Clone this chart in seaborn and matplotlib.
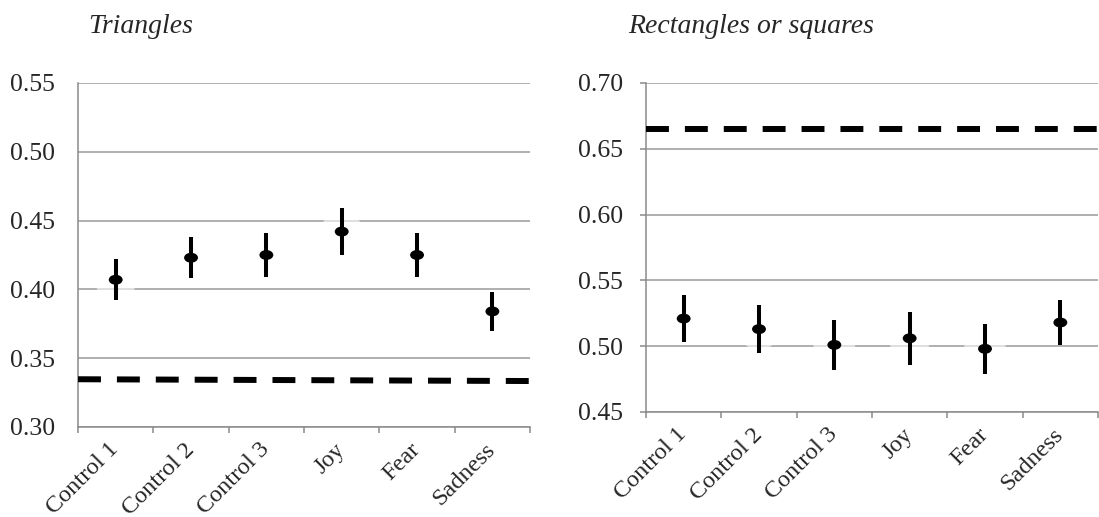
import numpy as np
import pandas as pd
import seaborn as sns
import matplotlib.pyplot as plt
from matplotlib.path import Path
from matplotlib.transforms import Affine2D
from matplotlib.ticker import FormatStrFormatter

sns.set_theme(style='white')
plt.rcParams['font.family'] = ['Liberation Serif', 'DejaVu Serif']
plt.rcParams['lines.scale_dashes'] = False

categories = ['Control 1', 'Control 2', 'Control 3', 'Joy', 'Fear', 'Sadness']

# triangles panel
tri_mean = [0.407, 0.423, 0.425, 0.442, 0.425, 0.384]
tri_low = [0.392, 0.408, 0.409, 0.425, 0.409, 0.370]
tri_high = [0.422, 0.438, 0.441, 0.459, 0.441, 0.398]
tri_chance = [0.3347, 0.3334]
tri_ticks = [0.30, 0.35, 0.40, 0.45, 0.50, 0.55]

# rectangles panel
rect_mean = [0.521, 0.513, 0.501, 0.506, 0.498, 0.518]
rect_low = [0.503, 0.495, 0.482, 0.486, 0.479, 0.501]
rect_high = [0.539, 0.531, 0.520, 0.526, 0.517, 0.535]
rect_chance = [0.6654, 0.6654]
rect_ticks = [0.45, 0.50, 0.55, 0.60, 0.65, 0.70]

GRID = '#9a9a9a'
SPINE = '#8a8a8a'
FS = 18.5

# slightly flattened dot, like the excel marker
dot = Path.unit_circle().transformed(Affine2D().scale(1.4, 1.0))


def draw(ax, mean, low, high, chance, ticks, ytick_len):
    df = pd.DataFrame({'cond': categories, 'mean': mean, 'low': low, 'high': high})
    x = np.arange(len(categories))
    xlim = (-0.5, len(categories) - 0.5)

    ax.set_axisbelow(True)
    ax.yaxis.grid(True, color=GRID, lw=1.1)

    # faint white halo behind each point
    sns.scatterplot(data=df, x='cond', y='mean', ax=ax, s=900, color='white',
                    edgecolor='none', alpha=0.6, zorder=2, legend=False)
    ax.vlines(x, df['low'], df['high'], color='black', lw=2.9, zorder=3)
    sns.scatterplot(data=df, x='cond', y='mean', ax=ax, marker=dot, s=100,
                    color='black', edgecolor='none', zorder=4, legend=False)

    ax.plot(xlim, chance, color='black', lw=4.3, dashes=(16.5, 11.5),
            solid_capstyle='butt', dash_capstyle='butt', zorder=3)

    ax.set_xlim(*xlim)
    ax.set_ylim(ticks[0], ticks[-1])
    ax.set_yticks(ticks)
    ax.yaxis.set_major_formatter(FormatStrFormatter('%.2f'))
    ax.set_xticks(x)
    ax.set_xticklabels(categories, rotation=45, ha='right', va='center',
                       rotation_mode='anchor', fontsize=17.5)
    ax.set_xticks(np.arange(len(categories) + 1) - 0.5, minor=True)
    ax.tick_params(axis='x', which='major', length=0, pad=14)
    ax.tick_params(axis='x', which='minor', length=4.5, width=1.1, color=SPINE,
                   bottom=True)
    ax.tick_params(axis='y', length=ytick_len, width=1.1, color=SPINE,
                   pad=16.5 - ytick_len, labelsize=FS, left=True)
    ax.set_xlabel('')
    ax.set_ylabel('')
    for s in ['top', 'right']:
        ax.spines[s].set_visible(False)
    for s in ['left', 'bottom']:
        ax.spines[s].set_color(SPINE)
        ax.spines[s].set_linewidth(1.1)


fig = plt.figure(figsize=(10.99, 5.17), dpi=100)
ax1 = fig.add_axes([0.0710, 0.1741, 0.4113, 0.6654])
ax2 = fig.add_axes([0.5878, 0.2031, 0.4113, 0.6364])

draw(ax1, tri_mean, tri_low, tri_high, tri_chance, tri_ticks, 0)
draw(ax2, rect_mean, rect_low, rect_high, rect_chance, rect_ticks, 4.5)

fig.text(88 / 1099, 1 - 33 / 517, 'Triangles', ha='left', va='baseline',
         fontsize=20, style='italic')
fig.text(628 / 1099, 1 - 33 / 517, 'Rectangles or squares', ha='left',
         va='baseline', fontsize=20, style='italic')

fig.savefig('out.png', dpi=100)
